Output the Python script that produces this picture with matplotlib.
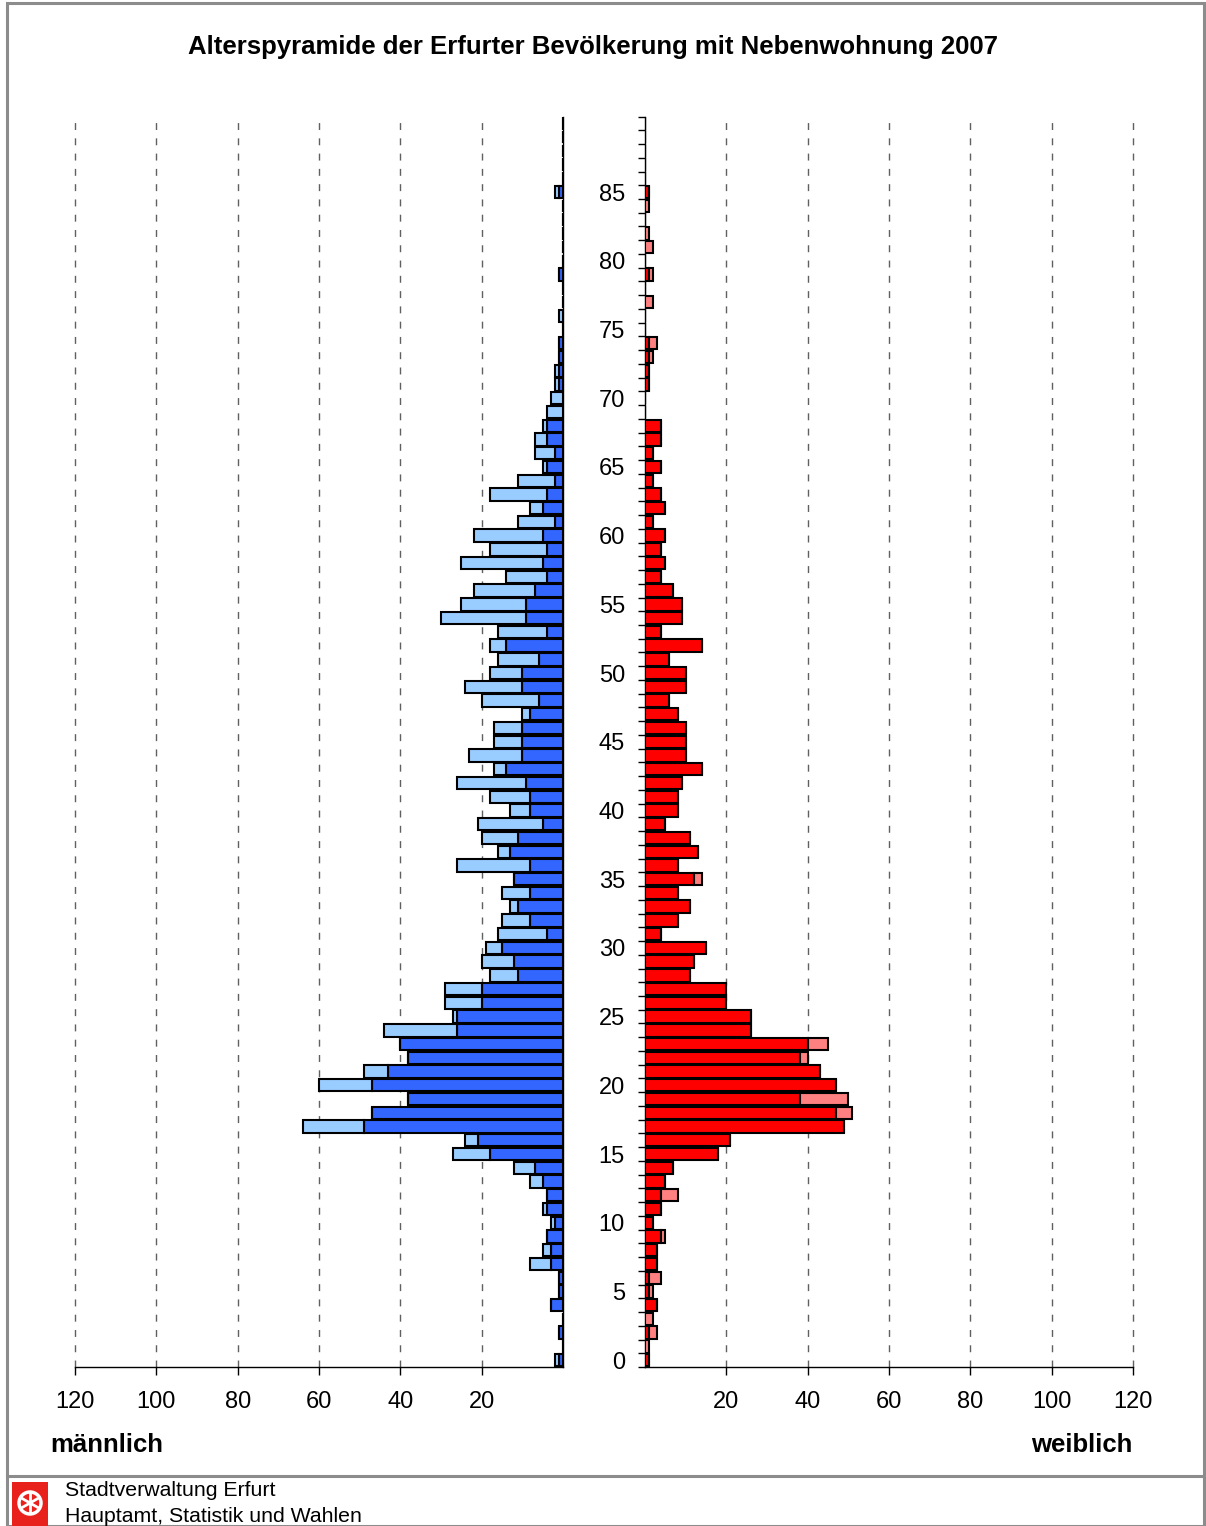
import numpy as np
import matplotlib.pyplot as plt
from matplotlib.patches import Rectangle, Circle

plt.rcParams['font.family'] = ['Liberation Sans', 'DejaVu Sans']

# Alter 0..90
alter = np.arange(0, 91)

# dunkler Teil (gleich auf beiden Seiten), Alter 0..90
dunkel = [1, 0, 1, 0, 3, 1, 1, 3, 3, 4,
          2, 4, 4, 5, 7, 18, 21, 49, 47, 38,
          47, 43, 38, 40, 26, 26, 20, 20, 11, 12,
          15, 4, 8, 11, 8, 12, 8, 13, 11, 5,
          8, 8, 9, 14, 10, 10, 10, 8, 6, 10,
          10, 6, 14, 4, 9, 9, 7, 4, 5, 4,
          5, 2, 5, 4, 2, 4, 2, 4, 4, 0,
          0, 1, 1, 1, 1, 0, 0, 0, 0, 1,
          0, 0, 0, 0, 0, 1, 0, 0, 0, 0, 0]

# heller Teil maennlich
m_hell = [1, 0, 0, 0, 0, 0, 0, 5, 2, 0,
          1, 1, 0, 3, 5, 9, 3, 15, 0, 0,
          13, 6, 0, 0, 18, 1, 9, 9, 7, 8,
          4, 12, 7, 2, 7, 0, 18, 3, 9, 16,
          5, 10, 17, 3, 13, 7, 7, 2, 14, 14,
          8, 10, 4, 12, 21, 16, 15, 10, 20, 14,
          17, 9, 3, 14, 9, 1, 5, 3, 1, 4,
          3, 1, 1, 0, 0, 0, 1, 0, 0, 0,
          0, 0, 0, 0, 0, 1, 0, 0, 0, 0, 0]

# heller Teil weiblich
w_hell = [0, 1, 2, 2, 0, 1, 3, 0, 0, 1,
          0, 0, 4, 0, 0, 0, 0, 0, 4, 12,
          0, 0, 2, 5, 0, 0, 0, 0, 0, 0,
          0, 0, 0, 0, 0, 2, 0, 0, 0, 0,
          0, 0, 0, 0, 0, 0, 0, 0, 0, 0,
          0, 0, 0, 0, 0, 0, 0, 0, 0, 0,
          0, 0, 0, 0, 0, 0, 0, 0, 0, 0,
          0, 0, 0, 1, 2, 0, 0, 2, 0, 1,
          0, 2, 1, 0, 1, 0, 0, 0, 0, 0, 0]

x_ticks = [20, 40, 60, 80, 100, 120]
alter_ticks = list(range(0, 86, 5))

W, H = 1206, 1526
fig = plt.figure(figsize=(W / 100, H / 100), dpi=100)


def px(x, y):
    return x / W, 1 - y / H


# rahmen
fig.patches.append(Rectangle(px(7, 1526), 1197 / W, 1523 / H, transform=fig.transFigure,
                             fill=False, edgecolor='#8c8c8c', linewidth=2.2))
fig.lines.append(plt.Line2D([7 / W, 1204 / W], [1 - 1476 / H, 1 - 1476 / H],
                            transform=fig.transFigure, color='#8c8c8c', linewidth=2.2))

ax_bottom = 1 - 1367 / H
ax_h = 91 * 13.741 / H
ax_m = fig.add_axes([75 / W, ax_bottom, 488 / W, ax_h])
ax_w = fig.add_axes([645 / W, ax_bottom, 488 / W, ax_h])

kw = dict(height=0.9, edgecolor='black', linewidth=1.5, zorder=3)
ax_m.barh(alter, dunkel, color='#3366ff', **kw)
ax_m.barh(alter, m_hell, left=dunkel, color='#99ccff', **kw)
ax_w.barh(alter, dunkel, color='#ff0000', **kw)
ax_w.barh(alter, w_hell, left=dunkel, color='#ff8080', **kw)

for ax in (ax_m, ax_w):
    ax.set_ylim(-0.5, 90.5)
    ax.set_xticks(x_ticks)
    ax.set_xticklabels([str(v) for v in x_ticks], fontsize=17)
    ax.tick_params(axis='x', direction='out', length=6, width=1, pad=11)
    ax.spines['top'].set_visible(False)
    for v in x_ticks:
        ax.axvline(v, color='#606060', linewidth=1, linestyle=(0, (5, 6)), zorder=1, clip_on=False)
    ax.spines['bottom'].set_linewidth(1)

ax_m.set_xlim(120, 0)
ax_m.spines['left'].set_visible(False)
ax_m.spines['right'].set_linewidth(1)
ax_m.set_yticks([])

ax_w.set_xlim(0, 120)
ax_w.spines['right'].set_visible(False)
ax_w.spines['left'].set_linewidth(1)
ax_w.set_yticks(alter_ticks)
ax_w.set_yticklabels([str(a) for a in alter_ticks], fontsize=17)
ax_w.set_yticks(np.arange(-0.5, 91, 1), minor=True)
ax_w.tick_params(axis='y', which='major', length=0, pad=14.5)
ax_w.tick_params(axis='y', which='minor', length=5, width=1, direction='out')

fig.text(*px(593, 47), 'Alterspyramide der Erfurter Bevölkerung mit Nebenwohnung 2007',
         ha='center', va='center', fontsize=18.5, fontweight='bold')
fig.text(*px(50, 1445), 'männlich', ha='left', va='center', fontsize=18.5, fontweight='bold')
fig.text(*px(1132, 1445), 'weiblich', ha='right', va='center', fontsize=18.5, fontweight='bold')

# logo
fig.patches.append(Rectangle(px(12, 1526), 36 / W, 44 / H, transform=fig.transFigure,
                             facecolor='#e8211c', edgecolor='none'))
cx, cy = px(30, 1503)
fig.patches.append(Circle((30, H - 1503), 11, transform=None, facecolor='none',
                          edgecolor='white', linewidth=2.5))
for k in range(6):
    a = np.pi / 6 + k * np.pi / 3
    fig.lines.append(plt.Line2D([30 / W, (30 + 10 * np.cos(a)) / W],
                                [cy, cy + 10 * np.sin(a) / H],
                                transform=fig.transFigure, color='white', linewidth=2))

fig.text(*px(65, 1491), 'Stadtverwaltung Erfurt', ha='left', va='center', fontsize=15.3)
fig.text(*px(65, 1516), 'Hauptamt, Statistik und Wahlen', ha='left', va='center', fontsize=15.3)

fig.savefig('out.png', dpi=100)
